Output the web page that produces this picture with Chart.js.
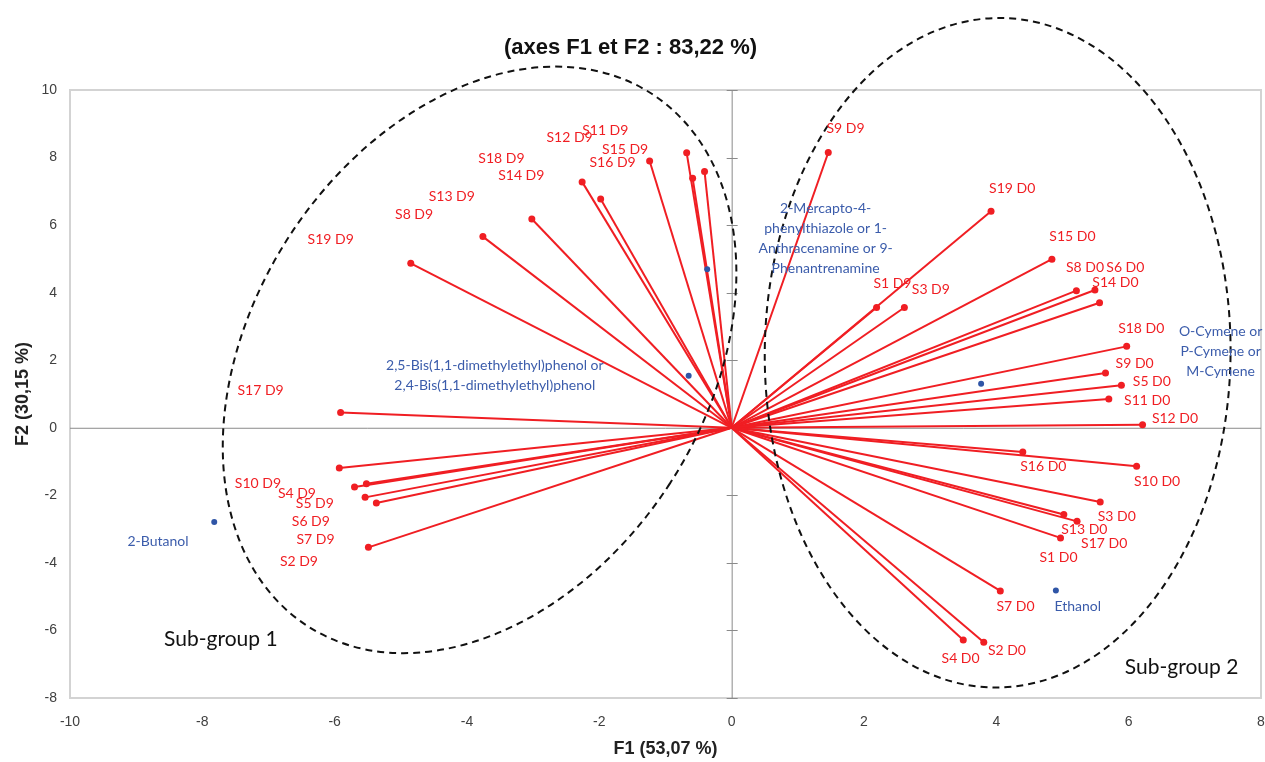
<!DOCTYPE html>
<html>
<head>
<meta charset="utf-8">
<title>ACP biplot F1/F2</title>
<script src="https://cdn.jsdelivr.net/npm/chart.js@4.4.0/dist/chart.umd.min.js"></script>
<style>
  html, body { margin: 0; padding: 0; background: #fff; }
</style>
</head>
<body>
<canvas id="pcaChart" width="1265" height="762"></canvas>
<script>
// samples at day 0 (S1..S19)
const d0Names = ["S1 D0","S2 D0","S3 D0","S4 D0","S5 D0","S6 D0","S7 D0","S8 D0","S9 D0","S10 D0",
  "S11 D0","S12 D0","S13 D0","S14 D0","S15 D0","S16 D0","S17 D0","S18 D0","S19 D0"];
const d0F1 = [4.97, 3.81, 5.57, 3.50, 5.89, 5.49, 4.06, 5.21, 5.65, 6.12, 5.70, 6.21, 5.02, 5.56, 4.84, 4.40, 5.22, 5.97, 3.92];
const d0F2 = [-3.26, -6.35, -2.20, -6.28, 1.26, 4.08, -4.83, 4.06, 1.62, -1.14, 0.85, 0.09, -2.57, 3.70, 4.99, -0.72, -2.77, 2.41, 6.41];
const d0LabelF1 = [4.94, 4.16, 5.82, 3.46, 6.35, 5.95, 4.29, 5.34, 6.09, 6.43, 6.28, 6.70, 5.33, 5.80, 5.15, 4.71, 5.63, 6.19, 4.24];
const d0LabelF2 = [-3.83, -6.59, -2.62, -6.83, 1.36, 4.76, -5.29, 4.76, 1.91, -1.59, 0.81, 0.27, -3.02, 4.31, 5.66, -1.14, -3.44, 2.93, 7.07];

// samples at day 9 (S1..S19)
const d9Names = ["S1 D9","S2 D9","S3 D9","S4 D9","S5 D9","S6 D9","S7 D9","S8 D9","S9 D9","S10 D9",
  "S11 D9","S12 D9","S13 D9","S14 D9","S15 D9","S16 D9","S17 D9","S18 D9","S19 D9"];
const d9F1 = [2.19, -5.49, 2.61, -5.70, -5.52, -5.54, -5.37, -3.76, 1.46, -5.93, -0.68, -1.24, -3.02, -1.98, -0.41, -0.59, -5.91, -2.26, -4.85];
const d9F2 = [3.56, -3.54, 3.56, -1.75, -1.66, -2.06, -2.23, 5.66, 8.15, -1.19, 8.14, 7.90, 6.18, 6.77, 7.59, 7.39, 0.45, 7.28, 4.87];
const d9LabelF1 = [2.43, -6.54, 3.01, -6.57, -6.30, -6.36, -6.29, -4.80, 1.72, -7.16, -1.91, -2.45, -4.23, -3.18, -1.61, -1.80, -7.12, -3.48, -6.06];
const d9LabelF2 = [4.26, -3.96, 4.09, -1.95, -2.25, -2.77, -3.31, 6.32, 8.86, -1.64, 8.80, 8.59, 6.84, 7.46, 8.25, 7.85, 1.10, 7.98, 5.57];

// volatile compounds (supplementary points)
const compoundNames = [
  ["2-Butanol"],
  ["Ethanol"],
  ["O-Cymene or", "P-Cymene or", "M-Cymene"],
  ["2-Mercapto-4-", "phenylthiazole or 1-", "Anthracenamine or 9-", "Phenantrenamine"],
  ["2,5-Bis(1,1-dimethylethyl)phenol or", "2,4-Bis(1,1-dimethylethyl)phenol"]
];
const compoundF1 = [-7.82, 4.90, 3.77, -0.37, -0.65];
const compoundF2 = [-2.79, -4.82, 1.30, 4.69, 1.54];
const compoundLabelF1 = [-8.67, 5.23, 7.39, 1.42, -3.58];
const compoundLabelF2 = [-3.38, -5.29, 2.25, 5.59, 1.54];

// sub-groups
const groupNames = ["Sub-group 1", "Sub-group 2"];
const groupLabelF1 = [-7.72, 6.80];
const groupLabelF2 = [-6.27, -7.10];

const xTicks = { min: -10, max: 8, step: 2 };
const yTicks = { min: -8, max: 10, step: 2 };

const RED = "#f01e23";
const BLUE = "#2f55a6";
const BLUE_TEXT = "#3b5cab";
const FONT = "'Liberation Sans', Arial, sans-serif";
const LABEL_FONT = "Lato, 'Open Sans', sans-serif";

Chart.defaults.font.family = FONT;

// one dataset per vector, from origin to the sample
function vectorDatasets(f1, f2) {
  return f1.map((v, i) => ({
    data: [{ x: 0, y: 0 }, { x: v, y: f2[i] }],
    showLine: true,
    borderColor: RED,
    borderWidth: 2,
    pointRadius: [0, 3.5],
    pointBackgroundColor: RED,
    pointBorderWidth: 0,
  }));
}

const datasets = [
  {
    data: compoundF1.map((v, i) => ({ x: v, y: compoundF2[i] })),
    pointRadius: 3,
    pointBackgroundColor: BLUE,
    pointBorderWidth: 0,
    showLine: false,
  },
  ...vectorDatasets(d0F1, d0F2),
  ...vectorDatasets(d9F1, d9F2),
];

const biplotExtras = {
  id: "biplotExtras",
  beforeDatasetsDraw(chart) {
    const { ctx, chartArea: a, scales: { x, y } } = chart;
    ctx.save();
    // plot frame
    ctx.strokeStyle = "#d3d3d3";
    ctx.lineWidth = 2;
    ctx.strokeRect(a.left, a.top, a.right - a.left, a.bottom - a.top);
    // axes crossing at the origin
    const x0 = x.getPixelForValue(0);
    const y0 = y.getPixelForValue(0);
    ctx.strokeStyle = "#8a8a8a";
    ctx.lineWidth = 1;
    ctx.beginPath();
    ctx.moveTo(a.left, y0 + 0.5);
    ctx.lineTo(a.right, y0 + 0.5);
    ctx.moveTo(x0 + 0.5, a.top);
    ctx.lineTo(x0 + 0.5, a.bottom);
    y.ticks.forEach((t) => {
      const py = Math.round(y.getPixelForValue(t.value)) + 0.5;
      ctx.moveTo(x0 - 5, py);
      ctx.lineTo(x0 + 6, py);
    });
    ctx.stroke();
    ctx.restore();
  },
  afterDatasetsDraw(chart) {
    const { ctx, scales: { x, y } } = chart;
    const unit = x.getPixelForValue(1) - x.getPixelForValue(0);
    ctx.save();

    // dashed group ellipses (radii in F1 units)
    ctx.strokeStyle = "#111";
    ctx.lineWidth = 2;
    ctx.setLineDash([7, 5]);
    const ellipses = [
      { cx: -3.81, cy: 2.01, rx: 3.43, ry: 4.79, rot: 32.9 },
      { cx: 4.02, cy: 2.22, rx: 3.52, ry: 5.06, rot: 0.6 },
    ];
    ellipses.forEach((e) => {
      ctx.beginPath();
      ctx.ellipse(x.getPixelForValue(e.cx), y.getPixelForValue(e.cy),
        e.rx * unit, e.ry * unit, (e.rot * Math.PI) / 180, 0, Math.PI * 2);
      ctx.stroke();
    });
    ctx.setLineDash([]);

    ctx.textAlign = "center";
    ctx.textBaseline = "middle";

    // sample labels
    ctx.font = "14px " + LABEL_FONT;
    ctx.fillStyle = RED;
    d0Names.forEach((n, i) => {
      ctx.fillText(n, x.getPixelForValue(d0LabelF1[i]), y.getPixelForValue(d0LabelF2[i]));
    });
    d9Names.forEach((n, i) => {
      ctx.fillText(n, x.getPixelForValue(d9LabelF1[i]), y.getPixelForValue(d9LabelF2[i]));
    });

    // compound labels
    ctx.fillStyle = BLUE_TEXT;
    compoundNames.forEach((lines, i) => {
      const px = x.getPixelForValue(compoundLabelF1[i]);
      const py = y.getPixelForValue(compoundLabelF2[i]);
      const lh = 20;
      lines.forEach((line, j) => {
        ctx.fillText(line, px, py + (j - (lines.length - 1) / 2) * lh);
      });
    });

    // group names
    ctx.font = "21px " + LABEL_FONT;
    ctx.fillStyle = "#111";
    groupNames.forEach((n, i) => {
      ctx.fillText(n, x.getPixelForValue(groupLabelF1[i]), y.getPixelForValue(groupLabelF2[i]));
    });
    ctx.restore();
  },
};

new Chart(document.getElementById("pcaChart"), {
  type: "scatter",
  data: { datasets },
  plugins: [biplotExtras],
  options: {
    responsive: false,
    animation: false,
    layout: { padding: { left: 0, right: 4, top: 0, bottom: 0 } },
    plugins: {
      legend: { display: false },
      tooltip: { enabled: false },
      title: {
        display: true,
        text: "(axes F1 et F2 : 83,22 %)",
        color: "#111",
        font: { size: 22, weight: "bold" },
        padding: { top: 35, bottom: 28.6 },
      },
    },
    scales: {
      x: {
        type: "linear",
        min: xTicks.min,
        max: xTicks.max,
        ticks: { stepSize: xTicks.step, padding: 16, color: "#404040", font: { size: 14 } },
        grid: { display: false, drawTicks: false },
        border: { display: false },
        title: {
          display: true,
          text: "F1 (53,07 %)",
          color: "#222",
          font: { size: 18, weight: "bold" },
          padding: { top: 0, bottom: 2 },
        },
        afterFit: (s) => {
          s.height = 64;
          s.paddingLeft = 0;
          s.paddingRight = 0;
        },
      },
      y: {
        type: "linear",
        min: yTicks.min,
        max: yTicks.max,
        ticks: { stepSize: yTicks.step, padding: 13, color: "#404040", font: { size: 14 } },
        grid: { display: false, drawTicks: false },
        border: { display: false },
        title: {
          display: true,
          text: "F2 (30,15 %)",
          color: "#222",
          font: { size: 18, weight: "bold" },
          padding: { top: 12, bottom: 0 },
        },
        afterFit: (s) => {
          s.width = 70;
          s.paddingTop = 0;
          s.paddingBottom = 0;
        },
      },
    },
  },
});
</script>
</body>
</html>
